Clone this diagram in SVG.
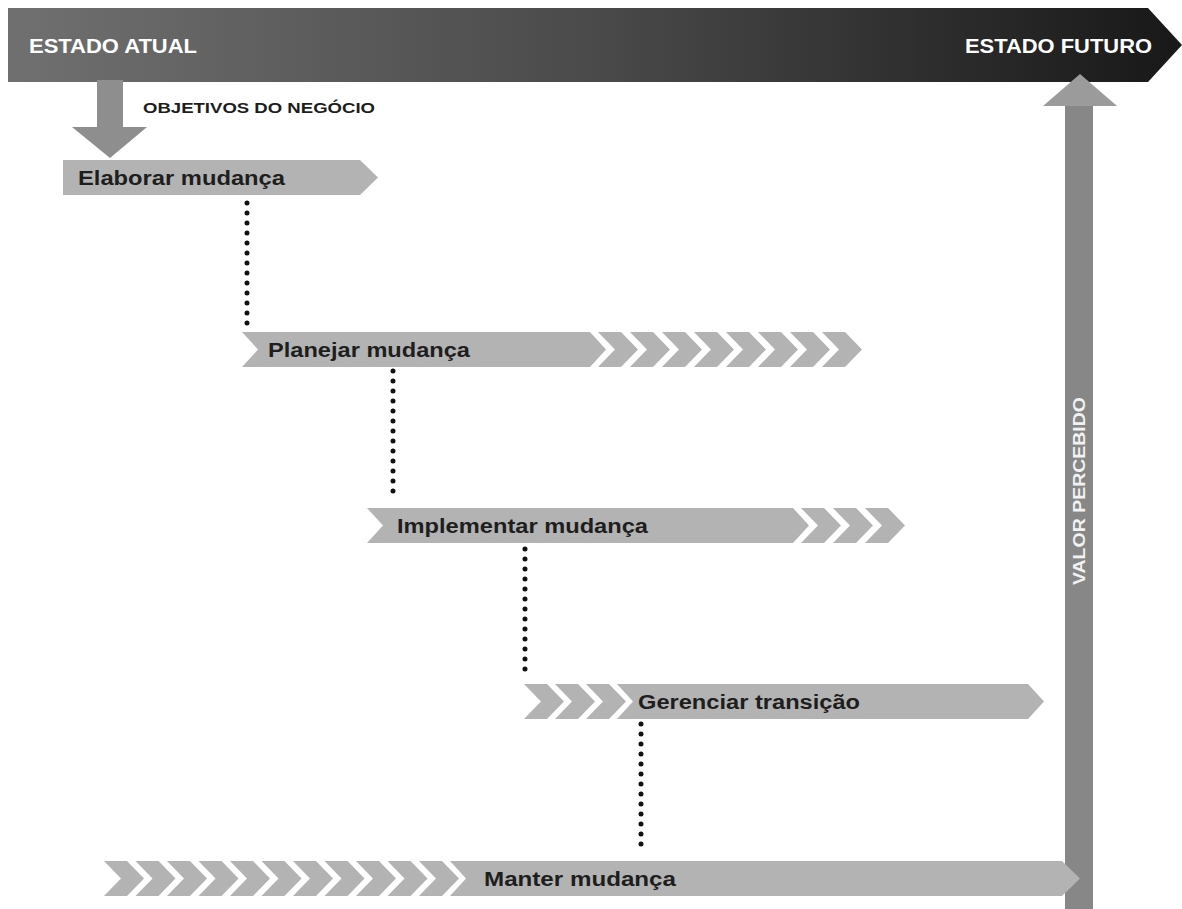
<svg xmlns="http://www.w3.org/2000/svg" xmlns:xlink="http://www.w3.org/1999/xlink" width="1182" height="909" viewBox="0 0 1182 909">
  <style>
    .bar { fill: #b3b3b3; }
    .lbl { font-family: "Liberation Sans", Arial, sans-serif; font-weight: bold; fill: #1e1e1e; font-size: 20px; }
    .head { font-family: "Liberation Sans", Arial, sans-serif; font-weight: bold; fill: #ffffff; font-size: 20px; }
    .dots { stroke: #111; stroke-width: 5; stroke-linecap: round; stroke-dasharray: 0 10; fill: none; }
  </style>
  <defs>
    <linearGradient id="timeline" x1="0" y1="0" x2="1" y2="0">
      <stop offset="0" stop-color="#707070"/>
      <stop offset="0.5" stop-color="#4a4a4a"/>
      <stop offset="1" stop-color="#181818"/>
    </linearGradient>
    <!-- single chevron, 35 high -->
    <path id="chev" class="bar" d="M0,0 h23 l17,17.5 l-17,17.5 h-23 l17,-17.5 z"/>
  </defs>
  <rect width="1182" height="909" fill="#ffffff"/>

  <!-- timeline from current to future state -->
  <g id="timeline-bar">
    <polygon points="8,8 1148,8 1182,45 1148,82 8,82" fill="url(#timeline)"/>
    <text class="head" x="29" y="53" textLength="168" lengthAdjust="spacingAndGlyphs">ESTADO ATUAL</text>
    <text class="head" x="965" y="53" textLength="187" lengthAdjust="spacingAndGlyphs">ESTADO FUTURO</text>
  </g>

  <!-- business objectives arrow -->
  <g id="objetivos">
    <polygon points="97,80 123,80 123,127 147,127 110,158 72,127 97,127" fill="#8e8e8e"/>
    <text class="lbl" x="143" y="113" style="font-size:15px" textLength="232" lengthAdjust="spacingAndGlyphs">OBJETIVOS DO NEGÓCIO</text>
  </g>

  <!-- perceived value arrow -->
  <g id="valor">
    <rect x="1065" y="100" width="28" height="809" fill="#878787"/>
    <polygon points="1043,106 1080,74 1117,106" fill="#9b9b9b"/>
    <text class="head" transform="translate(1085,585) rotate(-90)" x="0" y="0" style="font-size:17px;fill:#f2f2f2" textLength="188" lengthAdjust="spacingAndGlyphs">VALOR PERCEBIDO</text>
  </g>

  <!-- dotted links between phases -->
  <g id="connectors">
    <line class="dots" x1="247" y1="203" x2="247" y2="325"/>
    <line class="dots" x1="393" y1="371" x2="393" y2="499"/>
    <line class="dots" x1="525" y1="549" x2="525" y2="677"/>
    <line class="dots" x1="641" y1="724" x2="641" y2="852"/>
  </g>

  <g id="elaborar">
    <polygon class="bar" points="63,160 360,160 378,177.5 360,195 63,195"/>
    <text class="lbl" x="78" y="185" textLength="207" lengthAdjust="spacingAndGlyphs">Elaborar mudança</text>
  </g>

  <g id="planejar">
    <polygon class="bar" points="242,332 590,332 606,349.5 590,367 242,367 258,349.5"/>
    <use href="#chev" x="598" y="332"/>
    <use href="#chev" x="630" y="332"/>
    <use href="#chev" x="662" y="332"/>
    <use href="#chev" x="694" y="332"/>
    <use href="#chev" x="726" y="332"/>
    <use href="#chev" x="758" y="332"/>
    <use href="#chev" x="790" y="332"/>
    <use href="#chev" x="822" y="332"/>
    <text class="lbl" x="268" y="357" textLength="202" lengthAdjust="spacingAndGlyphs">Planejar mudança</text>
  </g>

  <g id="implementar">
    <polygon class="bar" points="367,508 793,508 809,525.5 793,543 367,543 383,525.5"/>
    <use href="#chev" x="801" y="508"/>
    <use href="#chev" x="833" y="508"/>
    <use href="#chev" x="865" y="508"/>
    <text class="lbl" x="397" y="533" textLength="251" lengthAdjust="spacingAndGlyphs">Implementar mudança</text>
  </g>

  <g id="gerenciar">
    <use href="#chev" x="524" y="684"/>
    <use href="#chev" x="555" y="684"/>
    <use href="#chev" x="586" y="684"/>
    <polygon class="bar" points="617,684 1028,684 1044,701.5 1028,719 617,719 633,701.5"/>
    <text class="lbl" x="638" y="709" textLength="222" lengthAdjust="spacingAndGlyphs">Gerenciar transição</text>
  </g>

  <g id="manter">
    <use href="#chev" x="104" y="861"/>
    <use href="#chev" x="135.5" y="861"/>
    <use href="#chev" x="167" y="861"/>
    <use href="#chev" x="198.5" y="861"/>
    <use href="#chev" x="230" y="861"/>
    <use href="#chev" x="261.5" y="861"/>
    <use href="#chev" x="293" y="861"/>
    <use href="#chev" x="324.5" y="861"/>
    <use href="#chev" x="356" y="861"/>
    <use href="#chev" x="387.5" y="861"/>
    <use href="#chev" x="419" y="861"/>
    <polygon class="bar" points="450,861 1062,861 1080,878.5 1062,896 450,896 466,878.5"/>
    <text class="lbl" x="484" y="886" textLength="192" lengthAdjust="spacingAndGlyphs">Manter mudança</text>
  </g>
</svg>
